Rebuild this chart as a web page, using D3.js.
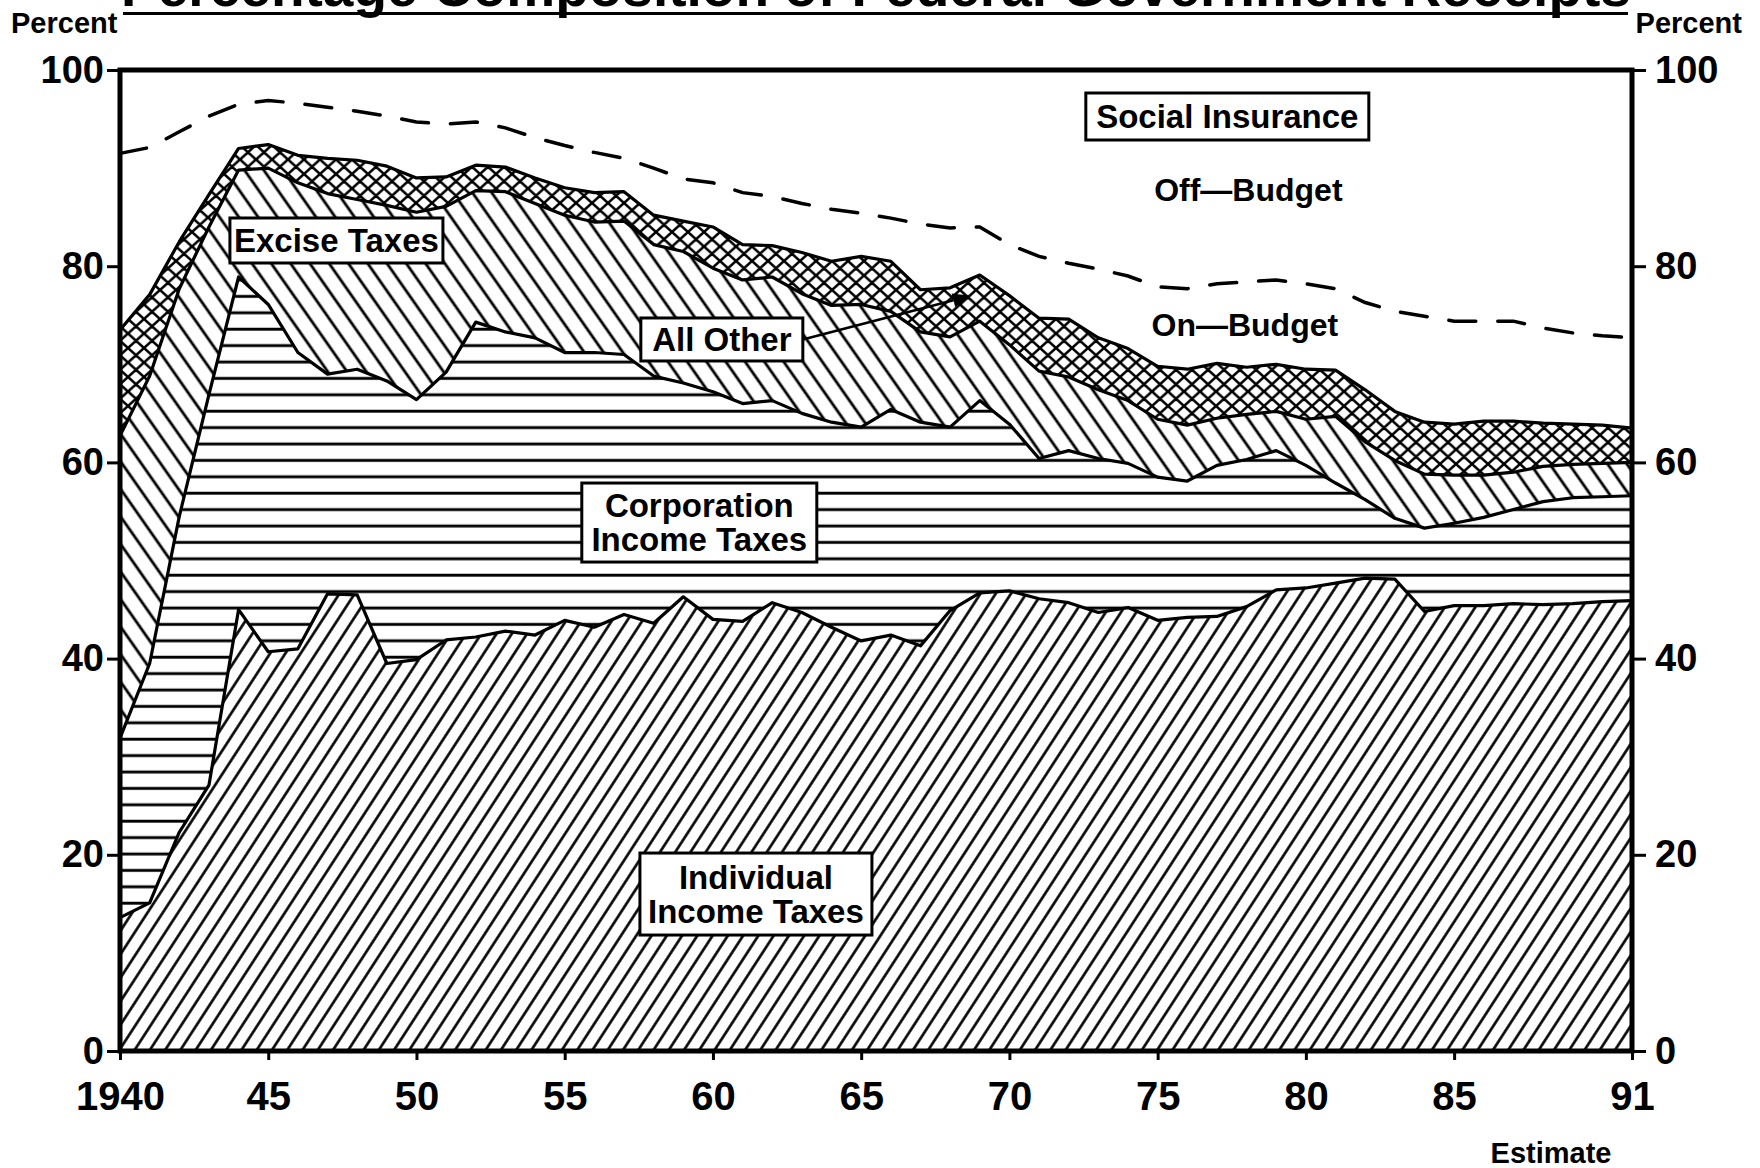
<!DOCTYPE html>
<html><head><meta charset="utf-8">
<script src="https://cdn.jsdelivr.net/npm/d3@7"></script>
<style>html,body{margin:0;padding:0;background:#fff}</style>
</head><body>
<svg id="chart" width="1760" height="1168" xmlns="http://www.w3.org/2000/svg"></svg>
<script>
// ---------------- DATA (percent of total receipts) ----------------
const years = [1940,1941,1942,1943,1944,1945,1946,1947,1948,1949,
  1950,1951,1952,1953,1954,1955,1956,1957,1958,1959,
  1960,1961,1962,1963,1964,1965,1966,1967,1968,1969,
  1970,1971,1972,1973,1974,1975,1976,1977,1978,1979,
  1980,1981,1982,1983,1984,1985,1986,1987,1988,1989,1990,1991];
const individualIncome = [13.6,15.1,22.3,27.1,45.0,40.7,41.0,46.6,46.5,39.5,
  39.9,41.9,42.2,42.8,42.4,43.9,43.2,44.5,43.6,46.3,
  44.0,43.8,45.7,44.7,43.2,41.8,42.4,41.3,44.9,46.7,
  46.9,46.1,45.7,44.7,45.2,43.9,44.2,44.3,45.3,47.0,
  47.2,47.7,48.2,48.1,44.8,45.4,45.4,45.6,45.5,45.6,45.8,45.9];
const corporationIncome = [18.3,24.4,32.2,39.8,33.9,35.4,30.2,22.4,23.0,28.8,
  26.5,27.3,32.1,30.5,30.3,27.3,28.0,26.5,25.2,21.8,
  23.2,22.2,20.6,20.3,20.9,21.8,23.0,22.8,18.7,19.6,
  17.0,14.3,15.5,15.7,14.7,14.6,13.9,15.4,15.0,14.2,
  12.5,10.2,8.0,6.2,8.5,8.4,9.0,9.6,10.5,10.8,10.7,10.7];
const exciseTaxes = [30.8,29.3,23.2,17.1,10.9,13.9,17.3,18.4,17.3,17.9,
  19.1,16.9,13.4,14.3,13.7,14.0,13.3,13.6,13.4,13.4,
  12.6,12.6,12.6,12.2,11.9,12.5,10.0,9.2,9.2,8.1,
  8.1,8.9,7.5,7.0,6.4,5.9,5.7,4.8,4.6,4.0,
  4.7,6.8,5.9,5.9,5.5,4.9,4.3,3.8,3.6,3.4,3.4,3.4];
const allOther = [10.8,8.3,4.8,3.3,2.2,2.4,2.8,3.6,4.0,4.0,
  3.5,3.0,2.6,2.5,2.6,2.8,3.0,3.0,3.0,3.1,
  4.2,3.6,3.2,4.2,4.5,4.9,5.1,4.3,5.0,4.7,
  5.0,5.4,5.9,5.3,5.3,5.4,5.7,5.6,4.8,4.8,
  5.1,4.7,5.3,5.0,5.3,5.2,5.5,5.2,4.4,4.1,3.9,3.5];
const socialInsOffBudget = [8.5,7.9,6.3,4.7,3.5,3.1,3.4,3.8,4.2,4.7,
  5.3,5.5,5.3,5.9,6.9,7.7,8.4,9.0,10.0,11.1,
  11.5,12.5,12.9,13.6,14.2,14.6,15.1,15.7,16.1,16.0,
  17.8,19.0,19.7,20.3,21.0,22.1,22.3,21.8,21.6,21.4,
  21.8,22.3,23.7,24.6,25.1,25.6,25.6,25.6,26.3,26.8,27.1,27.3];

const xTickValues = [1940,1945,1950,1955,1960,1965,1970,1975,1980,1985,1991];
const xTickLabels = ["1940","45","50","55","60","65","70","75","80","85","91"];
const yTickValues = [0,20,40,60,80,100];

// ---------------- SETUP ----------------
const svg = d3.select("#chart");
const FONT = "'Liberation Sans', Arial, sans-serif";
const x = d3.scaleLinear().domain([1940,1991]).range([120,1632]);
const y = d3.scaleLinear().domain([0,100]).range([1051,70]);

const rows = years.map((yr,i) => {
  const ind = individualIncome[i], cor = corporationIncome[i], exc = exciseTaxes[i], oth = allOther[i], off = socialInsOffBudget[i];
  return {year: yr, individual: ind, corporation: cor, excise: exc, other: oth,
          siOn: 100 - ind - cor - exc - oth - off, siOff: off};
});
const keys = ["individual","corporation","excise","other","siOn","siOff"];
const stacked = d3.stack().keys(keys)(rows);

// ---------------- PATTERNS ----------------
const defs = svg.append("defs");
function linePattern(id, spacing, angle, sw) {
  const p = defs.append("pattern").attr("id", id).attr("patternUnits","userSpaceOnUse")
    .attr("width", spacing).attr("height", 40).attr("patternTransform", `rotate(${angle})`);
  p.append("line").attr("x1", spacing/2).attr("x2", spacing/2).attr("y1", -5).attr("y2", 45)
    .attr("stroke","#000").attr("stroke-width", sw);
}
linePattern("pInd", 12.8, 33, 2.6);     // "/" hatch
linePattern("pExc", 15.8, -35, 2.8);    // "\" hatch
const ph = defs.append("pattern").attr("id","pCorp").attr("patternUnits","userSpaceOnUse")
  .attr("width", 40).attr("height", 16.4);
[1.2, 17.6, -15.2].forEach(o => ph.append("line").attr("x1",-5).attr("x2",45).attr("y1",o).attr("y2",o)
  .attr("stroke","#000").attr("stroke-width",3));
const cw = 16, ch = 14.5;
const px = defs.append("pattern").attr("id","pOth").attr("patternUnits","userSpaceOnUse")
  .attr("width", cw).attr("height", ch);
let dx = "";
for (let k=-1;k<=2;k++){
  dx += `M${k*cw-cw},${-ch}L${k*cw+2*cw},${2*ch}`;
  dx += `M${k*cw+cw},${-ch}L${k*cw-2*cw},${2*ch}`;
}
px.append("path").attr("d", dx).attr("stroke","#000").attr("stroke-width",2.6).attr("fill","none");

const fills = {individual:"url(#pInd)", corporation:"url(#pCorp)", excise:"url(#pExc)", other:"url(#pOth)", siOn:"#fff", siOff:"#fff"};

// ---------------- AREAS ----------------
const area = d3.area().x(d => x(d.data.year)).y0(d => y(d[0])).y1(d => y(d[1]));
svg.append("g").selectAll("path").data(stacked).join("path")
  .attr("d", area).attr("fill", d => fills[d.key]).attr("stroke","none");

// boundary lines (top of each taxed layer)
const topLine = d3.line().x(d => x(d.data.year)).y(d => y(d[1]));
svg.append("g").selectAll("path").data(stacked.filter(s => ["individual","corporation","excise","other"].includes(s.key)))
  .join("path").attr("d", topLine).attr("fill","none").attr("stroke","#000")
  .attr("stroke-width",3.2).attr("stroke-linejoin","round");

// on/off budget dashed divider
svg.append("path").datum(stacked.find(s => s.key==="siOn"))
  .attr("d", topLine).attr("fill","none").attr("stroke","#000").attr("stroke-width",3.5)
  .attr("stroke-dasharray","27,22").attr("stroke-linecap","round");

// ---------------- FRAME & AXES ----------------
svg.append("rect").attr("x", x(1940)).attr("y", y(100)).attr("width", x(1991)-x(1940)).attr("height", y(0)-y(100))
  .attr("fill","none").attr("stroke","#000").attr("stroke-width",5);

function styleAxis(g, size) {
  g.select(".domain").remove();
  g.selectAll("line").attr("stroke","#000").attr("stroke-width",3);
  g.selectAll("text").attr("font-family", FONT).attr("font-weight","bold").attr("font-size", size).attr("fill","#000");
}
svg.append("g").attr("transform",`translate(${x(1940)},0)`)
  .call(d3.axisLeft(y).tickValues(yTickValues).tickSize(13).tickPadding(3).tickSizeOuter(0))
  .call(g => styleAxis(g, 38));
svg.append("g").attr("transform",`translate(${x(1991)},0)`)
  .call(d3.axisRight(y).tickValues(yTickValues).tickSize(14).tickPadding(9).tickSizeOuter(0))
  .call(g => styleAxis(g, 38));
svg.append("g").attr("transform",`translate(0,${y(0)})`)
  .call(d3.axisBottom(x).tickValues(xTickValues).tickFormat((d,i) => xTickLabels[i]).tickSize(9).tickPadding(22).tickSizeOuter(0))
  .call(g => styleAxis(g, 40));

// ---------------- TEXTS ----------------
function txt(xp, yp, s, size, anchor) {
  return svg.append("text").attr("x", xp).attr("y", yp).text(s)
    .attr("font-family", FONT).attr("font-weight","bold").attr("font-size", size)
    .attr("text-anchor", anchor || "middle").attr("fill","#000");
}
txt(876, 6, "Percentage Composition of Federal Government Receipts", 55);
svg.append("line").attr("x1",123).attr("x2",1628).attr("y1",13.5).attr("y2",13.5).attr("stroke","#000").attr("stroke-width",3);
txt(11, 33, "Percent", 29, "start");
txt(1742, 33, "Percent", 29, "end");
txt(1551, 1163, "Estimate", 29);

function box(yr, val, w, h, lines) {
  const cx = x(yr), cy = y(val);
  svg.append("rect").attr("x", cx - w/2).attr("y", cy - h/2).attr("width", w).attr("height", h)
    .attr("fill","#fff").attr("stroke","#000").attr("stroke-width",3);
  const lh = 34;
  lines.forEach((s,i) => {
    txt(cx, cy + (i - (lines.length-1)/2)*lh, s, 33).attr("dy","0.36em");
  });
  return {cx, cy, w, h};
}
box(1947.3, 82.62, 213, 45, ["Excise Taxes"]);
const ao = box(1960.3, 72.53, 162, 43, ["All Other"]);
box(1959.54, 53.87, 235, 79, ["Corporation","Income Taxes"]);
box(1961.45, 16.0, 232, 82, ["Individual","Income Taxes"]);
box(1977.35, 95.26, 283, 47, ["Social Insurance"]);
txt(x(1978.06), y(87.87), "Off\u2014Budget", 32).attr("dy","0.36em");
txt(x(1977.94), y(74.11), "On\u2014Budget", 32).attr("dy","0.36em");

// arrow from "All Other" to its band
const sx = ao.cx + ao.w/2, sy = ao.cy, tx = x(1968.7), ty = y(77.0);
const ang = Math.atan2(ty - sy, tx - sx), L = 18, Wd = 7;
const bx = tx - L*Math.cos(ang), by = ty - L*Math.sin(ang);
svg.append("line").attr("x1", sx).attr("y1", sy).attr("x2", bx).attr("y2", by).attr("stroke","#000").attr("stroke-width",2.6);
svg.append("path").attr("d", `M${tx},${ty}L${bx - Wd*Math.sin(ang)},${by + Wd*Math.cos(ang)}L${bx + Wd*Math.sin(ang)},${by - Wd*Math.cos(ang)}Z`).attr("fill","#000");
</script>
</body></html>
